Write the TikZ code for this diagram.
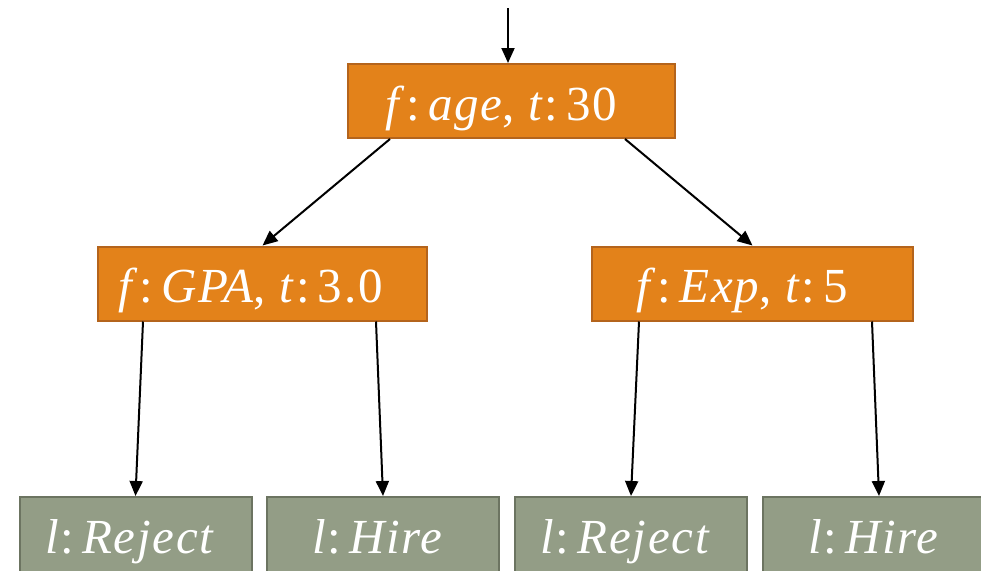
\documentclass[tikz,border=0pt]{standalone}
\usepackage{fontspec}
\setmainfont[LetterSpace=3.5]{Liberation Serif}
\usetikzlibrary{arrows.meta}
\definecolor{orfill}{HTML}{E3821A}
\definecolor{ordraw}{HTML}{B4641C}
\definecolor{lffill}{HTML}{939D86}
\definecolor{lfdraw}{HTML}{6C7461}
\tikzset{
  inner/.style={draw=ordraw, fill=orfill, line width=2pt, minimum width=327pt, minimum height=74pt, text=white, font=\fontsize{49}{52}\selectfont, inner sep=0pt, text height=38pt, text depth=0pt},
  leaf/.style={draw=lfdraw, fill=lffill, line width=2pt, minimum width=232pt, minimum height=88pt, text=white, font=\fontsize{49}{52}\selectfont, inner sep=0pt, text height=24pt, text depth=0pt},
  arr/.style={line width=2pt, -{Triangle[length=15pt,width=13pt]}}
}
\newcommand{\mi}[1]{\textit{#1}}
\newcommand{\lft}[1]{\hspace{-#1pt}}
\begin{document}
\begin{tikzpicture}[x=1pt,y=-1pt]
\useasboundingbox (0,0) rectangle (981,570);
\clip (0,0) rectangle (981,570);
\node[inner, minimum width=327pt] (root) at (511.5,101) {\lft{20}\mi{f}:\,\mi{age}, \mi{t}:\,30};
\node[inner, minimum width=329pt] (gpa) at (262.5,283.5) {\lft{24}\mi{f}:\,\mi{GPA}, \mi{t}:\,3.0};
\node[inner, minimum width=321pt] (exp) at (752.5,283.5) {\lft{20}\mi{f}:\,\mi{Exp}, \mi{t}:\,5};
\node[leaf] (l1) at (135.5,541) {\lft{10}\mi{l}:\,\mi{Reject}};
\node[leaf] (l2) at (383,541) {\lft{10}\mi{l}:\,\mi{Hire}};
\node[leaf] (l3) at (631,541) {\lft{10}\mi{l}:\,\mi{Reject}};
\node[leaf] (l4) at (879,541) {\lft{10}\mi{l}:\,\mi{Hire}};
\coordinate (top) at (508,8);
\draw[arr] (top) -- (top |- root.north);
\draw[arr] ([xshift=43pt]root.south west) -- (gpa.north);
\draw[arr] ([xshift=-51pt]root.south east) -- (exp.north);
\draw[arr] ([xshift=46pt]gpa.south west) -- (l1.north);
\draw[arr] ([xshift=-52pt]gpa.south east) -- (l2.north);
\draw[arr] ([xshift=48pt]exp.south west) -- (l3.north);
\draw[arr] ([xshift=-42pt]exp.south east) -- (l4.north);
\end{tikzpicture}
\end{document}
